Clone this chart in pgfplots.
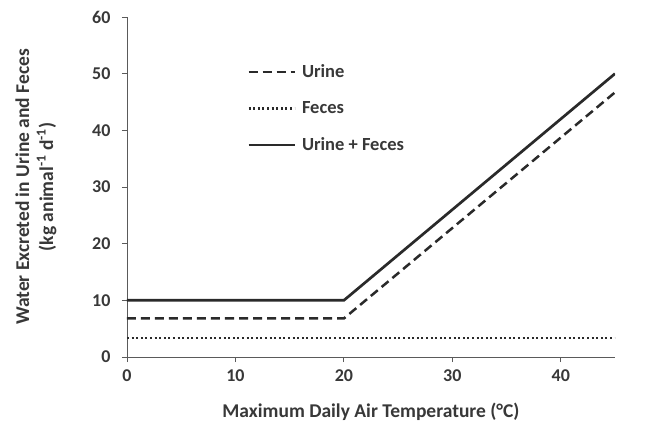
\documentclass[border=0pt]{standalone}
\usepackage{fontspec}
\setmainfont{Carlito}
\usepackage{pgfplots}
\pgfplotsset{compat=1.18}
\definecolor{txt}{HTML}{383838}
\definecolor{ln}{HTML}{2A2A2A}
\definecolor{ax}{HTML}{5A5A5A}
\begin{document}
\begin{tikzpicture}[x=1bp,y=1bp]
\path[use as bounding box] (-127bp,-76bp) rectangle (526bp,357bp);
\begin{axis}[
  at={(0,0)}, anchor=south west,
  scale only axis, width=488bp, height=340bp,
  xmin=0, xmax=45, ymin=0, ymax=60,
  xtick={0,10,20,30,40}, ytick={0,10,...,60},
  axis x line*=bottom, axis y line*=left,
  axis line style={ax, line width=0.9bp, -},
  tick style={ax, line width=0.9bp},
  tick align=outside, major tick length=5bp,
  /pgf/number format/assume math mode=true,
  ticklabel style={font=\fontsize{18bp}{21bp}\selectfont\bfseries, text=txt},
  xticklabel style={yshift=-4bp},
  yticklabel style={xshift=-8bp},
  label style={font=\fontsize{19.5bp}{24bp}\selectfont\bfseries, text=txt},
  xlabel={Maximum Daily Air Temperature (°C)},
  xlabel style={at={(axis description cs:0.5,0)}, anchor=center, yshift=-55bp},
  ylabel={Water Excreted in Urine and Feces\\(kg animal\textsuperscript{-1} d\textsuperscript{-1})},
  ylabel style={align=center, at={(axis description cs:0,0.5)}, anchor=center, yshift=91bp},
  legend cell align=left,
  legend style={draw=none, fill=none, at={(axis description cs:0.24,0.872)}, anchor=north west,
    font=\fontsize{18.5bp}{22bp}\selectfont\bfseries, text=txt, row sep=18.5bp,
    /tikz/every odd column/.append style={column sep=4bp}},
  legend image code/.code={\draw[#1] (0bp,0bp) -- (46bp,0bp);},
]
\addplot[ln, line width=2.5bp, dash pattern=on 9bp off 5bp] coordinates {(0,6.8) (20,6.8) (45,46.7)};
\addlegendentry{Urine}
\addplot[ln, line width=2.2bp, dash pattern=on 2bp off 2.6bp] coordinates {(0,3.3) (45,3.3)};
\addlegendentry{Feces}
\addplot[ln, line width=2.7bp] coordinates {(0,10) (20,10) (45,50)};
\addlegendentry{Urine + Feces}
\end{axis}
\end{tikzpicture}
\end{document}
